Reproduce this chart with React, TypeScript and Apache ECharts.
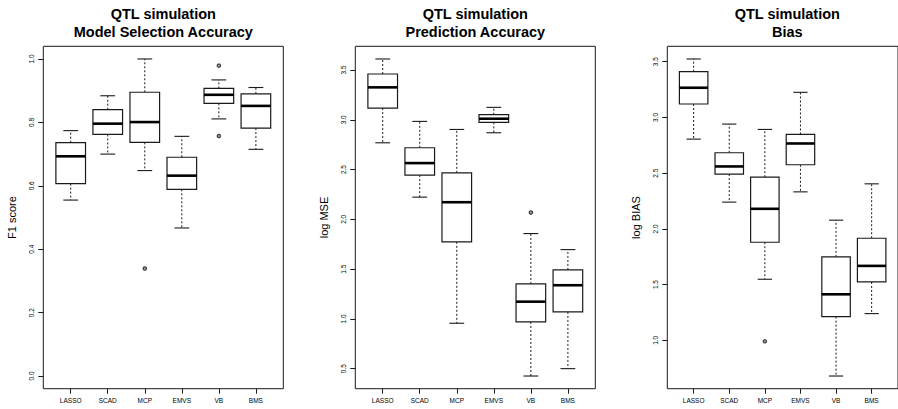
import React, { useEffect, useRef } from "react";
import * as echarts from "echarts";

const categories = ["LASSO", "SCAD", "MCP", "EMVS", "VB", "BMS"];

// [lower whisker, Q1, median, Q3, upper whisker]
const f1Stats = [
  [0.555, 0.607, 0.693, 0.736, 0.774],
  [0.7, 0.762, 0.796, 0.84, 0.884],
  [0.648, 0.737, 0.801, 0.895, 1.0],
  [0.467, 0.589, 0.632, 0.69, 0.756],
  [0.811, 0.86, 0.887, 0.907, 0.934],
  [0.715, 0.782, 0.852, 0.89, 0.91],
];
const f1Outliers = [
  [3, 0.339],
  [5, 0.979],
  [5, 0.757],
];
const f1Ticks = [0, 0.2, 0.4, 0.6, 0.8, 1.0];

const mseStats = [
  [2.769, 3.118, 3.326, 3.46, 3.611],
  [2.223, 2.444, 2.565, 2.719, 2.984],
  [0.956, 1.774, 2.172, 2.467, 2.903],
  [2.87, 2.974, 3.011, 3.051, 3.125],
  [0.426, 0.969, 1.173, 1.351, 1.857],
  [0.5, 1.07, 1.338, 1.492, 1.696],
];
const mseOutliers = [[5, 2.069]];
const mseTicks = [0.5, 1.0, 1.5, 2.0, 2.5, 3.0, 3.5];

const biasStats = [
  [2.805, 3.12, 3.266, 3.41, 3.524],
  [2.24, 2.491, 2.56, 2.683, 2.94],
  [1.548, 1.88, 2.18, 2.464, 2.892],
  [2.332, 2.575, 2.766, 2.847, 3.225],
  [0.68, 1.213, 1.413, 1.749, 2.078],
  [1.24, 1.524, 1.668, 1.916, 2.404],
];
const biasOutliers = [[3, 0.991]];
const biasTicks = [1.0, 1.5, 2.0, 2.5, 3.0, 3.5];

const panelTitles = [
  "QTL simulation\nModel Selection Accuracy",
  "QTL simulation\nPrediction Accuracy",
  "QTL simulation\nBias",
];
const yNames = ["F1 score", "log MSE", "log BIAS"];

const FONT = "'Liberation Sans', Arial, Helvetica, sans-serif";
const INK = "#1a1a1a";

function rRange(lo: number, hi: number): [number, number] {
  const d = (hi - lo) * 0.04;
  return [lo - d, hi + d];
}

function dataRange(stats: number[][], outs: number[][]): [number, number] {
  const vals: number[] = [];
  stats.forEach((s) => vals.push(...s));
  outs.forEach((o) => vals.push(o[1]));
  return rRange(Math.min(...vals), Math.max(...vals));
}

export default function App() {
  const ref = useRef<HTMLDivElement>(null);

  useEffect(() => {
    if (!ref.current) return;
    const chart = echarts.init(ref.current, undefined, { renderer: "svg" });

    const panels = [
      { stats: f1Stats, outs: f1Outliers, ticks: f1Ticks, range: rRange(0, 1) },
      { stats: mseStats, outs: mseOutliers, ticks: mseTicks, range: dataRange(mseStats, mseOutliers) },
      { stats: biasStats, outs: biasOutliers, ticks: biasTicks, range: dataRange(biasStats, biasOutliers) },
    ];
    const lefts = [43.3, 355.3, 667.3];
    const gridW = 240;

    const grids = lefts.map((l) => ({
      left: l,
      width: gridW,
      top: 46.3,
      bottom: 20.3,
      show: true,
      borderColor: INK,
      borderWidth: 1,
      backgroundColor: "transparent",
      containLabel: false,
    }));

    const xAxes = lefts.map((_, i) => ({
      type: "value",
      gridIndex: i,
      position: "bottom",
      min: 0.26,
      max: 6.74,
      axisLine: { show: false, onZero: false },
      splitLine: { show: false },
      axisTick: {
        show: true,
        length: 5,
        inside: false,
        customValues: [1, 2, 3, 4, 5, 6],
        lineStyle: { color: INK, width: 1 },
      },
      axisLabel: {
        show: true,
        customValues: [1, 2, 3, 4, 5, 6],
        formatter: (v: number) => categories[Math.round(v) - 1] ?? "",
        fontFamily: FONT,
        fontSize: 6.5,
        color: "#000",
        margin: 8,
      },
    }));

    const yAxes = panels.map((p, i) => ({
      type: "value",
      gridIndex: i,
      position: "left",
      min: p.range[0],
      max: p.range[1],
      name: yNames[i],
      nameLocation: "middle",
      nameRotate: 90,
      nameGap: 26,
      nameTextStyle: { fontFamily: FONT, fontSize: 11, color: "#000" },
      axisLine: { show: false, onZero: false },
      splitLine: { show: false },
      axisTick: {
        show: true,
        length: 5,
        inside: false,
        customValues: p.ticks,
        lineStyle: { color: INK, width: 1 },
      },
      axisLabel: {
        show: true,
        customValues: p.ticks,
        formatter: (v: number) => v.toFixed(1),
        rotate: 90,
        fontFamily: FONT,
        fontSize: 6.5,
        color: "#000",
        margin: 8,
      },
    }));

    const series: any[] = [];
    panels.forEach((p, i) => {
      series.push({
        type: "custom",
        xAxisIndex: i,
        yAxisIndex: i,
        clip: false,
        encode: { x: 0, y: [1, 2, 3, 4, 5] },
        data: p.stats.map((s, k) => [k + 1, ...s]),
        renderItem: (_params: any, api: any) => {
          const x = api.value(0);
          const lo = api.value(1);
          const q1 = api.value(2);
          const med = api.value(3);
          const q3 = api.value(4);
          const hi = api.value(5);
          const c = (xx: number, yy: number) => api.coord([xx, yy]);
          const [cx, yLo] = c(x, lo);
          const yQ1 = c(x, q1)[1];
          const yMed = c(x, med)[1];
          const yQ3 = c(x, q3)[1];
          const yHi = c(x, hi)[1];
          const bl = c(x - 0.4, lo)[0];
          const br = c(x + 0.4, lo)[0];
          const sl = c(x - 0.2, lo)[0];
          const sr = c(x + 0.2, lo)[0];
          const dash = { stroke: INK, lineWidth: 1, lineDash: [2, 2] };
          const solid = { stroke: INK, lineWidth: 1.1 };
          return {
            type: "group",
            children: [
              { type: "line", shape: { x1: cx, y1: yQ3, x2: cx, y2: yHi }, style: dash },
              { type: "line", shape: { x1: cx, y1: yQ1, x2: cx, y2: yLo }, style: dash },
              { type: "line", shape: { x1: sl, y1: yHi, x2: sr, y2: yHi }, style: solid },
              { type: "line", shape: { x1: sl, y1: yLo, x2: sr, y2: yLo }, style: solid },
              {
                type: "rect",
                shape: { x: bl, y: yQ3, width: br - bl, height: yQ1 - yQ3 },
                style: { fill: "#fff", stroke: INK, lineWidth: 1.2 },
              },
              {
                type: "line",
                shape: { x1: bl, y1: yMed, x2: br, y2: yMed },
                style: { stroke: "#000", lineWidth: 2.6 },
              },
            ],
          };
        },
      });
      series.push({
        type: "scatter",
        xAxisIndex: i,
        yAxisIndex: i,
        symbol: "circle",
        symbolSize: 3.4,
        itemStyle: { color: "#888", borderColor: "#111", borderWidth: 1.1 },
        data: p.outs,
      });
    });

    const centers = lefts.map((l) => l + gridW / 2);
    const graphic = centers.map((cx, i) => ({
      type: "text",
      x: cx,
      y: 4.5,
      style: {
        text: panelTitles[i],
        fontFamily: FONT,
        fontSize: 14.5,
        fontWeight: "bold",
        lineHeight: 18.4,
        fill: "#000",
        align: "center",
        verticalAlign: "top",
      },
    }));

    chart.setOption({
      animation: false,
      backgroundColor: "#fff",
      grid: grids,
      xAxis: xAxes,
      yAxis: yAxes,
      series,
      graphic,
    });

    return () => chart.dispose();
  }, []);

  return (
    <div
      ref={ref}
      style={{ position: "fixed", left: 0, top: 0, width: 898, height: 409 }}
    />
  );
}
